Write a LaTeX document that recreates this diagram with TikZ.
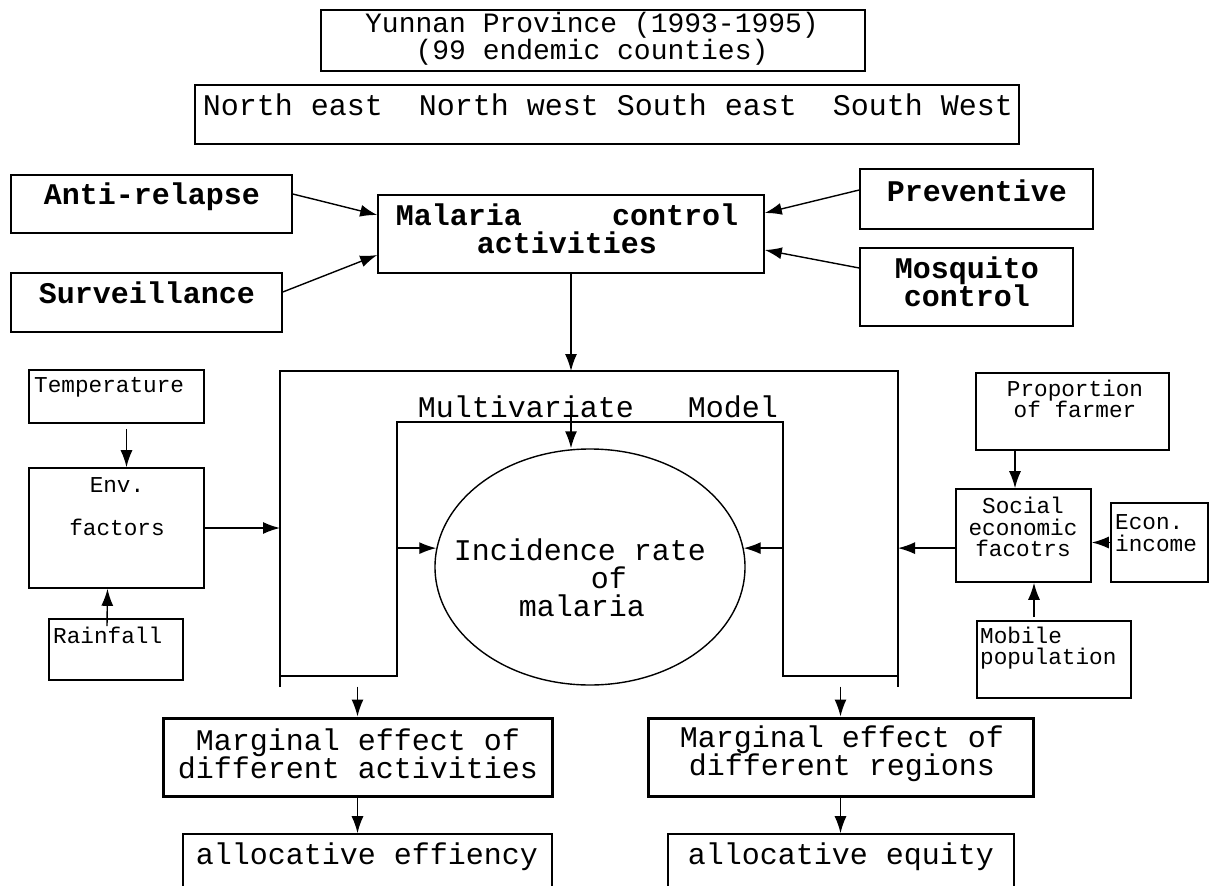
\documentclass[tikz,border=0pt]{standalone}
\usepackage{fontspec}
\setmainfont{Liberation Mono}
\usetikzlibrary{arrows.meta, shapes.geometric, positioning, calc}

\begin{document}
\begin{tikzpicture}[x=1pt, y=-1pt,
  box/.style={draw, line width=1.6pt, inner sep=0pt},
  thickbox/.style={draw, line width=3pt, inner sep=0pt},
  big/.style={font=\fontsize{30}{28}\selectfont, inner sep=0pt, align=center},
  bigb/.style={font=\fontsize{30}{28}\selectfont\bfseries, inner sep=0pt, align=center},
  small/.style={font=\fontsize{22.7}{21.5}\selectfont, inner sep=0pt, align=center},
  arr/.style={-{Latex[length=17pt,width=12pt]}, line width=1.4pt}]

  \useasboundingbox (0,0) rectangle (1216,886);

  % Study area
  \node[box, minimum width=544pt, minimum height=61pt] (prov) at (593,40.5) {};
  \node[big, font=\fontsize{28}{27}\selectfont] (provtext) at (592,39) {Yunnan Province (1993-1995)\\(99 endemic counties)};
  \node[box, minimum width=824pt, minimum height=59pt] (regions) at (607,114.5) {};
  \node[big] (regtext) at (608,105) {North east~~North west South east~~South West};

  % Control activities
  \foreach \nm/\cx/\cy/\w/\h/\tx/\ty/\lbl in {
    anti/151.5/204/281/58/152/197/Anti-relapse,
    surv/146.5/302.5/271/59/147/293/Surveillance,
    prev/976.5/199/233/60/977/191/Preventive,
    mosq/966.5/287/213/78/967/282/Mosquito\\control}{
    \node[box, minimum width=\w pt, minimum height=\h pt] (\nm) at (\cx,\cy) {};
    \node[bigb] (\nm text) at (\tx,\ty) {\lbl};
  }
  \node[box, minimum width=386pt, minimum height=78pt] (malaria) at (571,234) {};
  \node[bigb] (malariatext) at (567,229) {Malaria\ \ \ \ \ control\\activities};

  \draw[arr] ([yshift=10pt]anti.east) -- ([yshift=19pt]malaria.west);
  \draw[arr] ([yshift=10.5pt]surv.east) -- ([yshift=-21pt]malaria.west);
  \draw[arr] ([yshift=9pt]prev.west) -- ([yshift=21pt]malaria.east);
  \draw[arr] ([yshift=19pt]mosq.west) -- ([yshift=-16pt]malaria.east);

  % Model frame
  \coordinate (otl) at (280,371);
  \coordinate (otr) at (898,371);
  \coordinate (obl) at (280,676);
  \coordinate (obr) at (898,676);
  \coordinate (itl) at (397,422);
  \coordinate (itr) at (783,422);
  \draw[line width=1.4pt] (280,687) -- (otl) -- (otr) -- (898,687);
  \draw[line width=1.4pt] (obl) -- (itl |- obl) -- (itl) -- (itr) -- (itr |- obr) -- (obr);
  \draw[arr] (malaria.south) -- (otl -| malaria.south);

  \node[draw, ellipse, line width=1.4pt, minimum width=310pt, minimum height=236pt, inner sep=0pt] (inc) at (590,567) {};
  \node[big, align=left] (inctext) at (580,578) {Incidence rate\\\hspace*{137pt}of\\\hspace*{65pt}malaria};
  \node[big] (mvtext) at (598,407) {Multivariate\ \ \ Model};
  \coordinate (mvarr) at (571,408);
  \draw[arr] (mvarr) -- (mvarr |- inc.north);
  \draw[arr] (itl |- inc.173) -- (inc.173);
  \draw[arr] (itr |- inc.7) -- (inc.7);

  % Environment
  \node[box, minimum width=175pt, minimum height=53pt] (temp) at (116.5,396.5) {};
  \node[small, anchor=west] (temptext) at (34,387) {Temperature};
  \node[box, minimum width=175pt, minimum height=120pt] (env) at (116.5,528) {};
  \node[small] (envtext) at (117,506.5) {Env.\\[21.5pt]factors};
  \node[box, minimum width=134pt, minimum height=61pt] (rain) at (116,649.5) {};
  \node[small, anchor=west] (raintext) at (53,635) {Rainfall};

  \draw[arr] ([xshift=10pt,yshift=-5pt]temp.south) -- ([xshift=10pt]env.north);
  \draw[arr] ([xshift=-9pt,yshift=-8pt]rain.north) -- ([xshift=-9pt]env.south);
  \draw[arr] (env.east) -- (env.east -| otl);

  % Social economic
  \node[box, minimum width=193pt, minimum height=77pt] (prop) at (1072.5,411.5) {};
  \node[small] (proptext) at (1075,399) {Proportion\\of farmer};
  \node[box, minimum width=135pt, minimum height=93pt] (social) at (1023.5,535.5) {};
  \node[small] (socialtext) at (1023,527) {Social\\economic\\facotrs};
  \node[box, minimum width=97pt, minimum height=79pt] (econ) at (1159.5,542.5) {};
  \node[small, anchor=west, align=left] (econtext) at (1115,533) {Econ.\\income};
  \node[box, minimum width=154pt, minimum height=77pt] (mob) at (1054,659.5) {};
  \node[small, anchor=west, align=left] (mobtext) at (980,648) {Mobile\\population};

  \draw[arr] ([xshift=-57.5pt]prop.south) -- ([xshift=-8.5pt]social.north);
  \draw[arr] ([xshift=-20pt,yshift=3pt]mob.north) -- ([xshift=10.5pt]social.south);
  \draw[arr] (econ.west) -- (econ.west -| social.east);
  \draw[arr] (social.west |- inc.7) -- (otr |- inc.7);

  % Outputs
  \node[thickbox, minimum width=389pt, minimum height=78pt] (marg1) at (357.5,757) {};
  \node[big] (marg1text) at (358,753.5) {Marginal effect of\\different activities};
  \node[thickbox, minimum width=385pt, minimum height=78pt] (marg2) at (840.5,757) {};
  \node[big] (marg2text) at (842,753.5) {Marginal effect of\\different regions};
  \node[box, minimum width=369pt, minimum height=80pt] (alloc1) at (367.5,874) {};
  \node[big] (alloc1text) at (367,857) {allocative effiency};
  \node[box, minimum width=346pt, minimum height=80pt] (alloc2) at (841,874) {};
  \node[big] (alloc2text) at (841,857) {allocative equity};

  \draw[arr] ([yshift=30pt]marg1.north) -- (marg1.north);
  \draw[arr] ([yshift=30pt]marg2.north) -- (marg2.north);
  \draw[arr] (marg1.south) -- (marg1.south |- alloc1.north);
  \draw[arr] (marg2.south) -- (marg2.south |- alloc2.north);

\end{tikzpicture}
\end{document}
